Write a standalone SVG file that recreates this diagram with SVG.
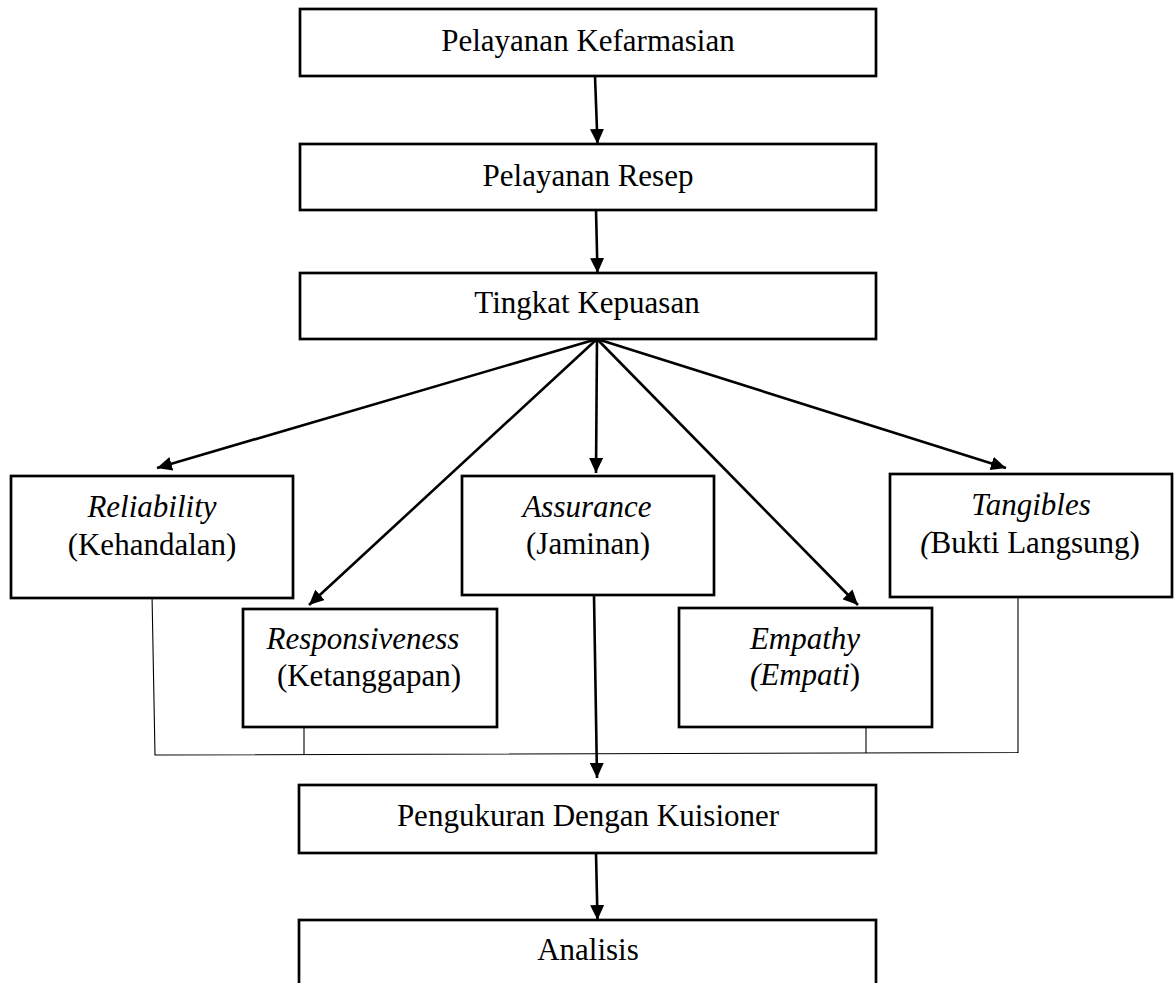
<svg xmlns="http://www.w3.org/2000/svg" width="1174" height="983" viewBox="0 0 1174 983">
<style>
.box{fill:#fff;stroke:#000;stroke-width:2.7}
.t{font-family:"Liberation Serif","Times New Roman",serif;font-size:31px;fill:#000;text-anchor:middle}
.i{font-style:italic}
.arr{stroke:#000;stroke-width:2.6;fill:none;marker-end:url(#ah)}
.thin{stroke:#000;stroke-width:1.1;fill:none}
</style>
<defs>
<marker id="ah" markerUnits="userSpaceOnUse" markerWidth="16" markerHeight="14" refX="15" refY="7" orient="auto">
<path d="M0,0 L15,7 L0,14 z" fill="#000"/>
</marker>
</defs>
<rect x="0" y="0" width="1174" height="983" fill="#fff"/>
<g id="connectors">
<line class="arr" x1="595" y1="76" x2="597.5" y2="144"/>
<line class="arr" x1="596" y1="210" x2="597.5" y2="273"/>
<line class="arr" x1="597" y1="339" x2="157" y2="468"/>
<line class="arr" x1="597" y1="339" x2="309" y2="605"/>
<line class="arr" x1="597" y1="339" x2="596" y2="473"/>
<line class="arr" x1="597" y1="339" x2="858" y2="605"/>
<line class="arr" x1="597" y1="339" x2="1006" y2="468"/>
<line class="arr" x1="594" y1="595" x2="597" y2="778"/>
<line class="arr" x1="596" y1="853" x2="597.5" y2="920"/>
<polyline class="thin" points="152,594 155,755 1018,752.5 1018,597"/>
<line class="thin" x1="304" y1="727" x2="304" y2="755"/>
<line class="thin" x1="866" y1="727" x2="866" y2="753"/>
</g>
<g id="n1">
<rect class="box" x="300" y="9" width="576" height="67"/>
<text class="t" x="588" y="51">Pelayanan Kefarmasian</text>
</g>
<g id="n2">
<rect class="box" x="300" y="144" width="576" height="66"/>
<text class="t" x="588" y="186">Pelayanan Resep</text>
</g>
<g id="n3">
<rect class="box" x="300" y="273" width="576" height="66"/>
<text class="t" x="587" y="313">Tingkat Kepuasan</text>
</g>
<g id="reliability">
<rect class="box" x="11" y="476" width="282" height="122"/>
<text class="t i" x="152" y="517">Reliability</text>
<text class="t" x="152" y="555">(Kehandalan)</text>
</g>
<g id="assurance">
<rect class="box" x="462" y="476" width="252" height="119"/>
<text class="t i" x="587" y="517">Assurance</text>
<text class="t" x="588" y="554">(Jaminan)</text>
</g>
<g id="tangibles">
<rect class="box" x="890" y="474" width="282" height="123"/>
<text class="t i" x="1031" y="515">Tangibles</text>
<text class="t" x="1030" y="553"><tspan class="i">(</tspan>Bukti Langsung)</text>
</g>
<g id="responsiveness">
<rect class="box" x="243" y="609" width="254" height="118"/>
<text class="t i" x="363" y="649">Responsiveness</text>
<text class="t" x="369" y="686">(Ketanggapan)</text>
</g>
<g id="empathy">
<rect class="box" x="679" y="608" width="253" height="119"/>
<text class="t i" x="805" y="649">Empathy</text>
<text class="t" x="805" y="685"><tspan class="i">(Empati</tspan>)</text>
</g>
<g id="pengukuran">
<rect class="box" x="299" y="785" width="577" height="68"/>
<text class="t" x="588" y="826">Pengukuran Dengan Kuisioner</text>
</g>
<g id="analisis">
<rect class="box" x="299" y="920" width="577" height="75"/>
<text class="t" x="588" y="960">Analisis</text>
</g>
</svg>
